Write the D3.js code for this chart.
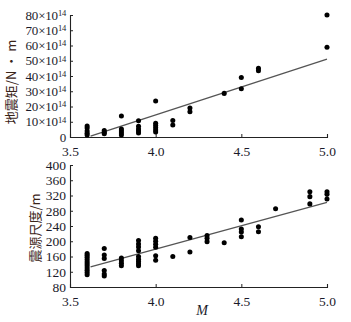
<!DOCTYPE html>
<html>
<head>
<meta charset="utf-8">
<script src="https://cdn.jsdelivr.net/npm/d3@7"></script>
<style>
  body { margin: 0; background: #fff; }
  svg { font-family: "Liberation Serif", "DejaVu Serif", serif; }
</style>
</head>
<body>
<div id="chart"></div>
<script>
// seismic moment (x10^14 N·m) vs magnitude
const topM = [3.6,3.6,3.6,3.6,3.6, 3.7,3.7,3.7, 3.8,3.8,3.8,3.8,3.8, 3.9,3.9,3.9,3.9,3.9,
  4.0,4.0,4.0,4.0,4.0,4.0, 4.1,4.1, 4.2,4.2, 4.4, 4.5,4.5, 4.6,4.6, 5.0,5.0];
const topV = [7.2,5.9,3.9,2.4,1.3, 4.2,3.0,2.2, 13.8,5.2,3.9,2.6,1.3, 10.7,7.0,5.2,3.9,2.6,
  23.6,9.0,7.5,6.0,4.6,3.3, 10.8,7.9, 19.0,16.6, 28.6, 39.0,31.7, 45.0,43.5, 80.0,58.8];
const topFitM = [3.62, 5.0];
const topFitV = [0.5, 51];
const topTicks = [0, 10, 20, 30, 40, 50, 60, 70, 80];

// source size (m) vs magnitude
const botM = [3.6,3.6,3.6,3.6,3.6,3.6,3.6,3.6,3.6,3.6,3.6,
  3.7,3.7,3.7,3.7,3.7,3.7, 3.8,3.8,3.8,3.8,
  3.9,3.9,3.9,3.9,3.9,3.9,3.9,3.9,3.9, 4.0,4.0,4.0,4.0,4.0,4.0,
  4.1, 4.2,4.2, 4.3,4.3,4.3, 4.4, 4.5,4.5,4.5,4.5, 4.6,4.6, 4.7,
  4.9,4.9,4.9, 5.0,5.0,5.0];
const botV = [112,118,124,130,136,141,146,152,158,163,168,
  181,164,155,123,114,109, 156,149,142,136,
  202,193,185,175,160,153,147,141,136, 208,200,192,184,162,150,
  160, 210,172, 215,208,199, 196, 256,232,224,212, 238,225, 285,
  330,317,298, 330,323,311];
const botFitM = [3.62, 5.0];
const botFitV = [133, 302];
const botTicks = [80, 120, 160, 200, 240, 280, 320, 360, 400];

const xTicks = [3.5, 4.0, 4.5, 5.0];

const width = 351, height = 322;
const svg = d3.select("#chart").append("svg")
  .attr("width", width)
  .attr("height", height);

const x = d3.scaleLinear().domain([3.5, 5.0]).range([70, 327]);

function panel(opts) {
  const y = d3.scaleLinear().domain(opts.domain).range(opts.range);
  const g = svg.append("g");

  // axes
  const xAxis = g.append("g")
    .attr("transform", `translate(0, ${opts.range[0]})`)
    .call(d3.axisBottom(x).tickValues(xTicks).tickSize(-3).tickPadding(6).tickFormat(d3.format(".1f")));
  const yAxis = g.append("g")
    .attr("transform", `translate(70, 0)`)
    .call(d3.axisLeft(y).tickValues(opts.ticks).tickSize(-3).tickPadding(4));

  [xAxis, yAxis].forEach(a => {
    a.select(".domain").attr("stroke", "#222").attr("stroke-width", 1.1);
    a.selectAll(".tick line").attr("stroke", "#222");
    a.selectAll(".tick text")
      .attr("fill", "#1a1a2a")
      .style("font-size", "13.5px")
      .style("font-family", "Liberation Serif");
  });
  xAxis.selectAll(".tick text").attr("dy", "0.95em");

  if (opts.sci) {
    yAxis.selectAll(".tick text").each(function(d) {
      const t = d3.select(this);
      t.text(null);
      if (d === 0) { t.text("0"); return; }
      t.append("tspan").text(d + "×10");
      t.append("tspan").attr("dy", "-0.45em").style("font-size", "8.5px").text("14");
    });
    yAxis.selectAll(".tick text").style("font-size", "13px").style("letter-spacing", "-0.2px");
  }

  // fit line
  g.append("line")
    .attr("x1", x(opts.fitM[0])).attr("y1", y(opts.fitV[0]))
    .attr("x2", x(opts.fitM[1])).attr("y2", y(opts.fitV[1]))
    .attr("stroke", "#555")
    .attr("stroke-width", 1.3);

  // points
  g.selectAll("path.pt")
    .data(opts.m.map((m, i) => [m, opts.v[i]]))
    .join("path")
    .attr("class", "pt")
    .attr("d", d3.symbol().type(d3.symbolCircle).size(20))
    .attr("transform", d => `translate(${x(d[0])}, ${y(d[1])})`)
    .attr("fill", "#000");

  // y title
  svg.append("text")
    .attr("transform", `translate(${opts.titleX}, ${opts.titleY}) rotate(-90)`)
    .attr("text-anchor", "middle")
    .attr("fill", "#3a2418")
    .style("font-family", "Noto Sans CJK SC, Liberation Serif")
    .style("font-size", "13px")
    .text(opts.title);
}

panel({ domain: [0, 80], range: [137, 15], ticks: topTicks, sci: true,
  m: topM, v: topV, fitM: topFitM, fitV: topFitV,
  title: "地震矩/N · m", titleX: 16, titleY: 82 });

panel({ domain: [80, 400], range: [287, 165], ticks: botTicks, sci: false,
  m: botM, v: botV, fitM: botFitM, fitV: botFitV,
  title: "震源尺度/m", titleX: 40, titleY: 228 });

svg.append("text")
  .attr("x", 202).attr("y", 315)
  .attr("text-anchor", "middle")
  .attr("fill", "#1a1a2a")
  .style("font-style", "italic")
  .style("font-size", "14px")
  .text("M");
</script>
</body>
</html>
